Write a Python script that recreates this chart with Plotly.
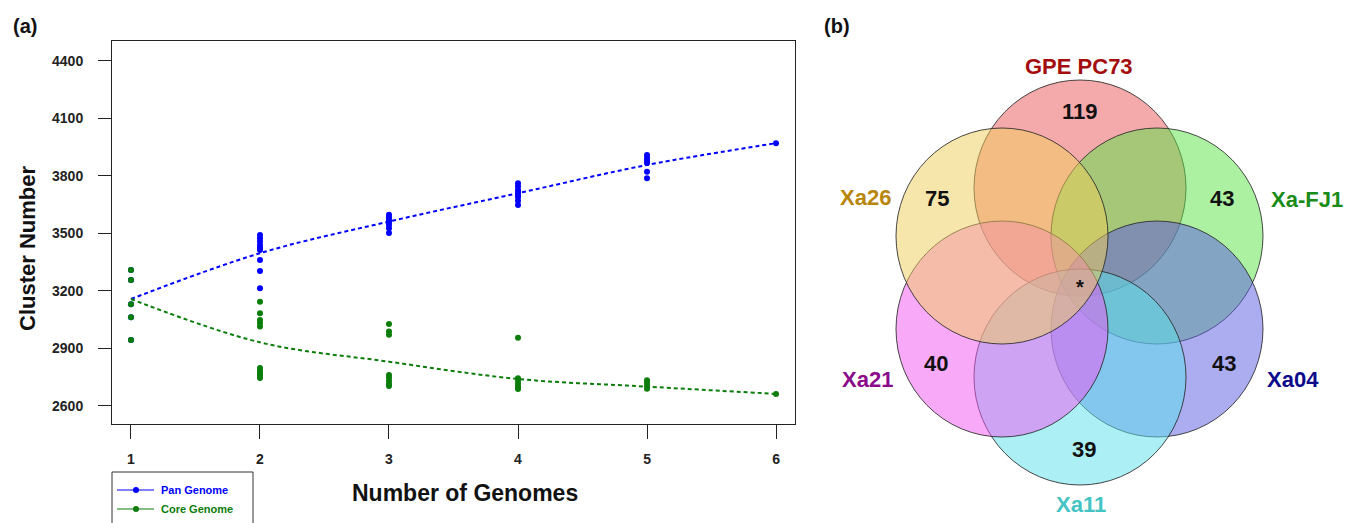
import plotly.graph_objects as go

# ---------------- data: panel (a) ----------------
genomes = [1, 2, 3, 4, 5, 6]
pan_obs = {
    1: [3310, 3257, 3131, 3063, 2944],
    2: [3492, 3475, 3458, 3440, 3425, 3414, 3362, 3304, 3214],
    3: [3597, 3585, 3570, 3560, 3545, 3527, 3503],
    4: [3762, 3745, 3727, 3715, 3700, 3690, 3670, 3649],
    5: [3909, 3894, 3880, 3868, 3822, 3788],
    6: [3971],
}
core_obs = {
    1: [3310, 3257, 3131, 3063, 2944],
    2: [3144, 3084, 3049, 3033, 3014, 2798, 2783, 2770, 2758, 2746],
    3: [3028, 2988, 2972, 2762, 2748, 2732, 2716, 2704],
    4: [2956, 2745, 2730, 2715, 2700, 2688],
    5: [2734, 2720, 2706, 2690],
    6: [2663],
}
pan_fit = [3158, 3397, 3562, 3710, 3857, 3971]
core_fit = [3158, 2932, 2831, 2741, 2701, 2663]
y_ticks = [2600, 2900, 3200, 3500, 3800, 4100, 4400]

# ---------------- data: panel (b) ----------------
venn_sets = ["GPE PC73", "Xa26", "Xa-FJ1", "Xa21", "Xa04", "Xa11"]
venn_unique = [119, 75, 43, 40, 43, 39]
venn_label_colors = ["#a30d0d", "#b8860b", "#1a8c1a", "#8b0a8b", "#0a0a8a", "#45c4c4"]
venn_fill_colors = ["rgba(233,85,85,0.5)", "rgba(240,205,90,0.5)", "rgba(90,228,70,0.5)",
                    "rgba(242,85,242,0.5)", "rgba(90,90,228,0.5)", "rgba(90,226,236,0.5)"]
venn_core_label = "*"

W, H = 1349, 523
FONT = "Liberation Sans, Arial, sans-serif"
BLUE, GREEN = "#0000ff", "#0a7d0a"

def PX(x):
    return x / W

def PY(y):
    return 1 - y / H

fig = go.Figure()

def flat(d):
    xs, ys = [], []
    for k in genomes:
        for v in d[k]:
            xs.append(k)
            ys.append(v)
    return xs, ys

px_, py_ = flat(pan_obs)
cx_, cy_ = flat(core_obs)
fig.add_trace(go.Scatter(x=px_, y=py_, mode="markers", marker=dict(color=BLUE, size=6),
                         showlegend=False, hoverinfo="skip"))
fig.add_trace(go.Scatter(x=genomes, y=pan_fit, mode="lines",
                         line=dict(color=BLUE, width=2, dash="4px,3px", shape="spline"),
                         showlegend=False, hoverinfo="skip"))
fig.add_trace(go.Scatter(x=cx_, y=cy_, mode="markers", marker=dict(color=GREEN, size=6),
                         showlegend=False, hoverinfo="skip"))
fig.add_trace(go.Scatter(x=genomes, y=core_fit, mode="lines",
                         line=dict(color=GREEN, width=2, dash="4px,3px", shape="spline"),
                         showlegend=False, hoverinfo="skip"))

# plot box in pixels
L, R, T, B = 112, 795, 41, 424
fig.update_layout(
    width=W, height=H, margin=dict(l=0, r=0, t=0, b=0),
    paper_bgcolor="white", plot_bgcolor="white",
    xaxis=dict(domain=[L / W, R / W], range=[0.853, 6.147], tickvals=genomes,
               showgrid=False, zeroline=False, showline=True, mirror=True, linecolor="#222", linewidth=1,
               ticks="outside", ticklen=14, tickcolor="#222", ticklabelstandoff=8,
               tickfont=dict(family=FONT, size=14, color="#222", weight="bold")),
    yaxis=dict(domain=[1 - B / H, 1 - T / H], range=[2506, 4504], tickvals=y_ticks,
               showgrid=False, zeroline=False, showline=True, mirror=True, linecolor="#222", linewidth=1,
               ticks="outside", ticklen=13, tickcolor="#222", ticklabelstandoff=12,
               tickfont=dict(family=FONT, size=14, color="#222", weight="bold")),
)

ann = []
def txt(x, y, s, size, color="#111", xanchor="center", **kw):
    ann.append(dict(x=PX(x), y=PY(y), xref="paper", yref="paper", text=s, showarrow=False,
                    xanchor=xanchor, yanchor="middle",
                    font=dict(family=FONT, size=size, color=color, weight="bold"), **kw))

txt(25, 26, "(a)", 20)
txt(837, 26, "(b)", 20)
txt(465, 493, "Number of Genomes", 23)
txt(27, 249, "Cluster Number", 22, textangle=-90)

# legend box
shapes = [dict(type="rect", xref="paper", yref="paper", x0=PX(112), x1=PX(253), y0=PY(472), y1=PY(530),
               line=dict(color="#333", width=1), fillcolor="rgba(0,0,0,0)")]
for yy, col, name in [(490, BLUE, "Pan Genome"), (509, GREEN, "Core Genome")]:
    shapes.append(dict(type="line", xref="paper", yref="paper", x0=PX(117), x1=PX(154), y0=PY(yy), y1=PY(yy),
                       line=dict(color=col, width=1)))
    shapes.append(dict(type="circle", xref="paper", yref="paper", x0=PX(133), x1=PX(139),
                       y0=PY(yy + 3), y1=PY(yy - 3), line=dict(color=col, width=0), fillcolor=col))
    txt(159, yy, name, 11, col, xanchor="left")

# Venn circles (pixel geometry)
centers = [(1080, 188), (1002, 236), (1157, 236), (1002, 329), (1157, 329), (1080, 377)]
rx, ry = 106, 108
draw_order = [0, 2, 4, 5, 3, 1]
for i in draw_order:
    cx, cy = centers[i]
    shapes.append(dict(type="circle", xref="paper", yref="paper",
                       x0=PX(cx - rx), x1=PX(cx + rx), y0=PY(cy + ry), y1=PY(cy - ry),
                       fillcolor=venn_fill_colors[i], line=dict(color="rgba(40,40,40,0.85)", width=1)))

label_pos = [(1079, 66), (865, 198), (1307, 200), (867, 379), (1293, 379), (1081, 504)]
count_pos = [(1080, 112), (937, 199), (1222, 199), (936, 363), (1224, 363), (1084, 449)]
for i, name in enumerate(venn_sets):
    txt(*label_pos[i], name, 22, venn_label_colors[i])
    txt(*count_pos[i], str(venn_unique[i]), 22, "#111")
txt(1080, 287, venn_core_label, 20, "#111")

fig.update_layout(annotations=ann, shapes=shapes)
fig.write_html("out.html", config={"displayModeBar": False},
               post_script="document.body.style.margin='0';document.body.style.overflow='hidden';")
